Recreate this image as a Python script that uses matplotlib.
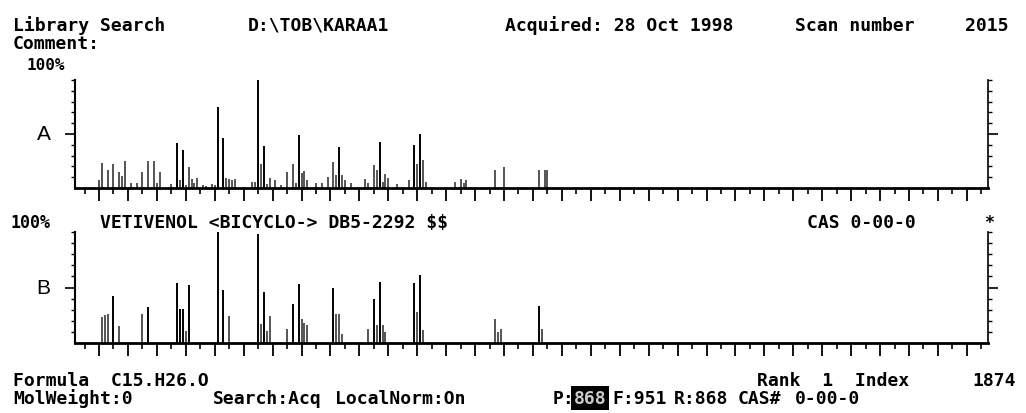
import matplotlib
matplotlib.use("Agg")
import matplotlib.pyplot as plt
from matplotlib.ticker import MultipleLocator, FixedLocator

# spectrum A (acquired scan) - m/z and relative intensity (%)
mz_a = [50, 51, 53, 55, 57, 58, 59, 61, 63, 65, 67, 69, 70, 71, 75, 77, 78, 79, 80, 81,
        82, 83, 84, 86, 87, 89, 90, 91, 93, 94, 95, 96, 97, 103, 104, 105, 106, 107, 108,
        109, 111, 113, 115, 117, 118, 119, 120, 121, 122, 125, 127, 129, 131, 132, 133,
        134, 135, 137, 142, 143, 145, 146, 147, 148, 149, 150, 153, 157, 159, 160, 161,
        162, 163, 173, 175, 176, 177, 187, 190, 202, 204, 205]
int_a = [7, 23, 17, 22, 15, 11, 25, 5, 5, 15, 25, 25, 5, 15, 4, 42, 7, 35, 3, 19,
         8, 5, 9, 3, 2, 4, 3, 75, 46, 9, 8, 7, 8, 6, 6, 100, 22, 39, 4,
         9, 7, 3, 15, 22, 5, 49, 14, 16, 7, 5, 5, 10, 24, 12, 38,
         12, 7, 5, 8, 5, 21, 17, 43, 6, 13, 9, 4, 7, 40, 22, 50,
         26, 6, 6, 8, 5, 7, 17, 19, 17, 17, 17]

# spectrum B (library hit: vetivenol)
mz_b = [51, 52, 53, 55, 57, 65, 67, 77, 78, 79, 80, 81, 91, 93, 95, 105, 106, 107, 108,
        109, 115, 117, 119, 120, 121, 122, 131, 132, 133, 134, 143, 145, 146, 147, 148,
        149, 159, 160, 161, 162, 187, 188, 189, 202, 203]
int_b = [23, 25, 26, 42, 15, 26, 32, 54, 31, 31, 11, 52, 100, 48, 24, 98, 17, 46, 11,
         24, 13, 35, 53, 22, 18, 16, 50, 26, 26, 8, 13, 40, 16, 55, 16,
         10, 54, 28, 61, 12, 22, 10, 13, 33, 13]

mz_min, mz_max = 41.7, 357.3

W, H = 1026, 414
fig = plt.figure(figsize=(W / 100, H / 100), dpi=100)
mono = {"family": "DejaVu Sans Mono", "weight": "bold", "size": 13}


def put(x, y, s, **kw):
    opts = dict(mono)
    opts.update(kw)
    return fig.text(x / W, 1 - y / H, s, va="center", ha="left", **opts)


def spectrum(rect, mz, inten, label):
    ax = fig.add_axes(rect)
    cols = ["black" if v >= 30 else "#555555" for v in inten]
    ax.vlines(mz, 0, inten, colors=cols, linewidth=1.4)
    ax.set_xlim(mz_min, mz_max)
    ax.set_ylim(0, 100)
    ax.spines["top"].set_visible(False)
    ax.spines["left"].set_linewidth(1.5)
    ax.spines["right"].set_linewidth(1.2)
    ax.spines["bottom"].set_linewidth(2)
    ax.xaxis.set_major_locator(MultipleLocator(10))
    ax.xaxis.set_minor_locator(MultipleLocator(5))
    ax.yaxis.set_major_locator(FixedLocator([50]))
    ax.yaxis.set_minor_locator(FixedLocator([10, 20, 30, 40, 60, 70, 80, 90, 100]))
    ax.tick_params(axis="x", which="major", direction="out", length=9, width=1.3,
                   labelbottom=False)
    ax.tick_params(axis="x", which="minor", direction="out", length=4, width=1.2)
    ax.tick_params(axis="y", which="major", direction="out", length=7, width=1.2,
                   left=True, right=True, labelleft=False)
    ax.tick_params(axis="y", which="minor", direction="out", length=3, width=1,
                   left=True, right=True)
    ax.text(-0.027, 0.5, label, transform=ax.transAxes, ha="right", va="center",
            fontsize=15, family="Liberation Sans")
    return ax


spectrum([75 / W, 1 - 189 / H, 913 / W, 108 / H], mz_a, int_a, "A")
spectrum([75 / W, 1 - 344 / H, 913 / W, 111 / H], mz_b, int_b, "B")

# header
put(13, 26, "Library Search")
put(248, 26, "D:\\TOB\\KARAA1")
put(505, 26, "Acquired: 28 Oct 1998")
put(795, 26, "Scan number")
put(965, 26, "2015")
put(13, 44, "Comment:")
put(27, 66, "100%", size=11.5)

# library hit line
put(10, 223, "100%", size=12)
put(100, 223, "VETIVENOL <BICYCLO-> DB5-2292 \\$\\$")
put(807, 223, "CAS 0-00-0")
put(984, 223, "*", size=12)

# footer
put(13, 381, "Formula  C15.H26.O")
put(757, 381, "Rank  1  Index")
put(972, 381, "1874")
put(13, 399, "MolWeight:0")
put(213, 399, "Search:Acq")
put(335, 399, "LocalNorm:On")
put(553, 399, "P:")
put(574, 399, "868", color="#cccccc",
    bbox=dict(facecolor="black", edgecolor="none", pad=2))
put(612, 399, "F:951")
put(674, 399, "R:868")
put(738, 399, "CAS#")
put(795, 399, "0-00-0")

fig.savefig("out.png", dpi=100, facecolor="white")
